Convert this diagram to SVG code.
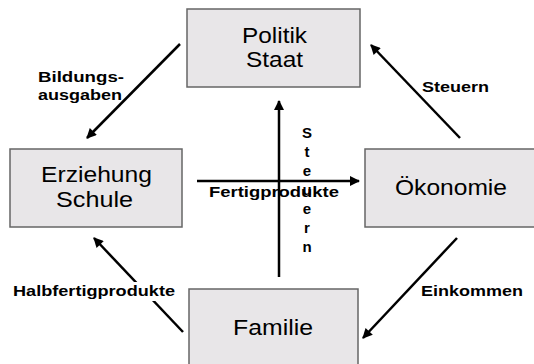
<svg xmlns="http://www.w3.org/2000/svg" width="534" height="364" viewBox="0 0 534 364">
<style>
.box{fill:#e8e6e8;stroke:#666;stroke-width:1.5}
.nt{font-family:"Liberation Sans",Arial,sans-serif;font-size:22px;fill:#000}
.lb{font-family:"Liberation Sans",Arial,sans-serif;font-size:15px;font-weight:bold;fill:#000}
.ln{stroke:#000;stroke-width:2.5;fill:none;marker-end:url(#ah)}
</style>
<defs>
<marker id="ah" viewBox="0 0 10 10" refX="9" refY="5" markerWidth="4.6" markerHeight="4" markerUnits="strokeWidth" orient="auto">
<path d="M0,0 L10,5 L0,10 z" fill="#000"/>
</marker>
</defs>
<rect width="534" height="364" fill="#fff"/>
<g id="politik">
<rect class="box" x="187" y="9" width="173" height="78"/>
<text class="nt" x="242" y="43" textLength="65" lengthAdjust="spacingAndGlyphs">Politik</text>
<text class="nt" x="246" y="67" textLength="57" lengthAdjust="spacingAndGlyphs">Staat</text>
</g>
<g id="erziehung">
<rect class="box" x="10" y="149" width="172" height="78"/>
<text class="nt" x="41" y="182" textLength="111" lengthAdjust="spacingAndGlyphs">Erziehung</text>
<text class="nt" x="56" y="207" textLength="77" lengthAdjust="spacingAndGlyphs">Schule</text>
</g>
<g id="oekonomie">
<rect class="box" x="365" y="149" width="180" height="78"/>
<text class="nt" x="395" y="195" textLength="112" lengthAdjust="spacingAndGlyphs">Ökonomie</text>
</g>
<g id="familie">
<rect class="box" x="189" y="289" width="169" height="90"/>
<text class="nt" x="233" y="335" textLength="80" lengthAdjust="spacingAndGlyphs">Familie</text>
</g>
<g id="connectors">
<line class="ln" x1="180" y1="44" x2="87" y2="138"/>
<line class="ln" x1="460" y1="138" x2="371" y2="45"/>
<line class="ln" x1="183" y1="332" x2="94" y2="238"/>
<line class="ln" x1="457" y1="238" x2="363" y2="338"/>
<line class="ln" x1="197" y1="181" x2="359" y2="181"/>
<line class="ln" x1="279" y1="277" x2="279" y2="101"/>
<rect x="12" y="282" width="165" height="19" fill="#fff"/>
</g>
<g id="labels">
<text class="lb" x="38" y="82" textLength="86" lengthAdjust="spacingAndGlyphs">Bildungs-</text>
<text class="lb" x="38" y="100" textLength="84" lengthAdjust="spacingAndGlyphs">ausgaben</text>
<text class="lb" x="422" y="92" textLength="67" lengthAdjust="spacingAndGlyphs">Steuern</text>
<text class="lb" x="13" y="296" textLength="162" lengthAdjust="spacingAndGlyphs">Halbfertigprodukte</text>
<text class="lb" x="421" y="296" textLength="102" lengthAdjust="spacingAndGlyphs">Einkommen</text>
<text class="lb" x="209" y="197" textLength="130" lengthAdjust="spacingAndGlyphs">Fertigprodukte</text>
<text class="lb" text-anchor="middle" font-size="16"><tspan x="307" y="138">S</tspan><tspan x="307" y="157">t</tspan><tspan x="307" y="176">e</tspan><tspan x="307" y="195">u</tspan><tspan x="307" y="214">e</tspan><tspan x="307" y="233">r</tspan><tspan x="307" y="252">n</tspan></text>
</g>
</svg>
